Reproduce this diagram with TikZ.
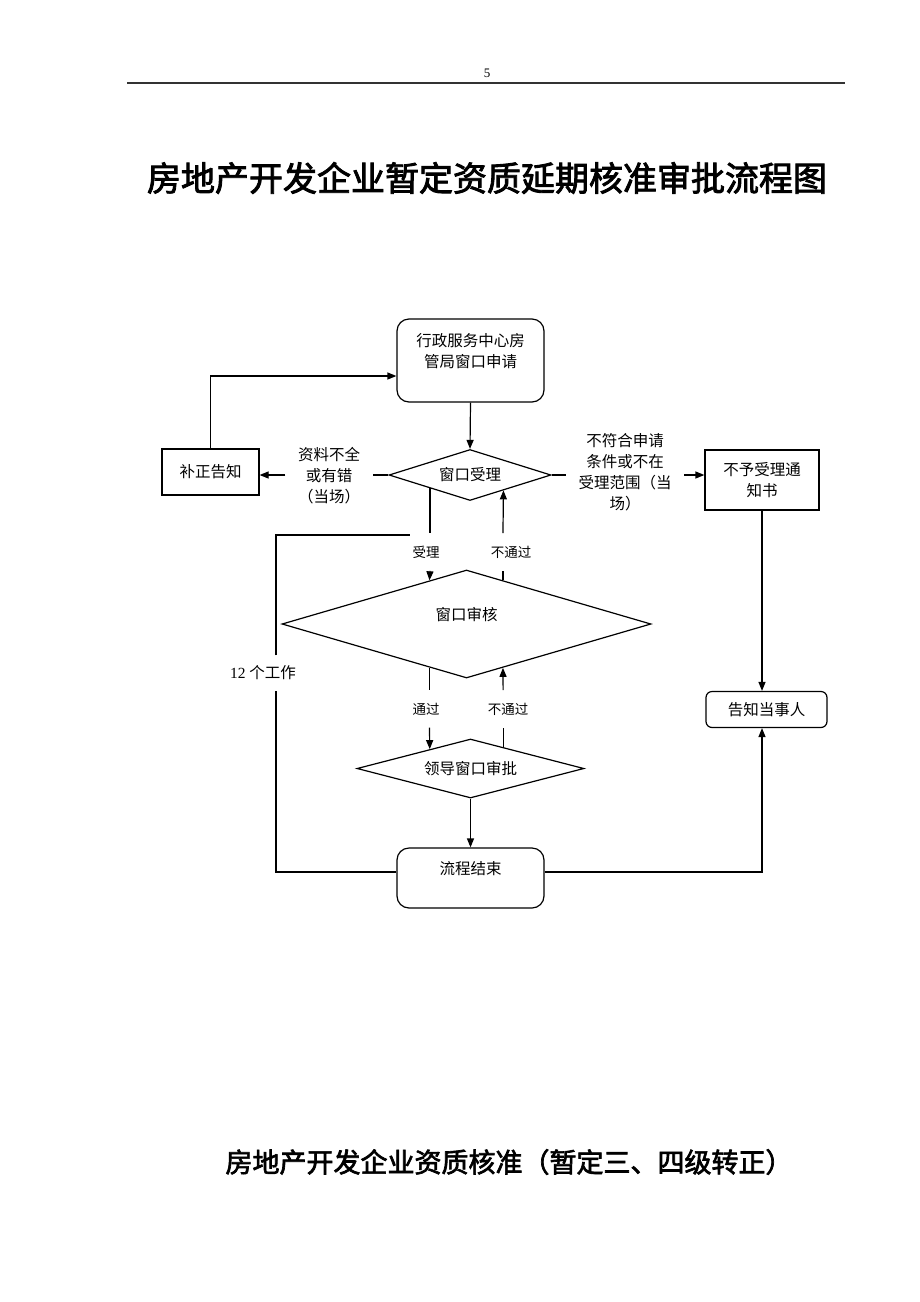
\documentclass[tikz,border=0pt]{standalone}
\usepackage{fontspec}
\setmainfont{Liberation Serif}
\newfontfamily\cjk{Noto Sans CJK SC}
\newfontfamily\cjktitle[BoldFont={Noto Sans CJK SC}, BoldFeatures={FakeBold=2.5}]{Noto Sans CJK SC}
\usetikzlibrary{shapes.geometric,arrows.meta,calc}

\begin{document}
\begin{tikzpicture}[x=1pt, y=-1pt, line width=1.2pt,
    txt/.style={font=\cjk\fontsize{15.5}{21}\selectfont, align=center, inner sep=0pt},
    box/.style={txt, draw, rectangle},
    rbox/.style={box, rounded corners=12pt},
    dia/.style={txt, draw, diamond},
    lbl/.style={txt, fill=white, inner xsep=12pt, inner ysep=2pt},
    vlbl/.style={font=\cjk\fontsize{13.5}{16}\selectfont, fill=white, inner xsep=2pt, inner ysep=12pt},
    arr/.style={-{Triangle[length=9pt,width=7pt]}}]
    \useasboundingbox[fill=white] (0,0) rectangle (920,1302);

    % page head
    \node[font=\fontsize{13}{15}\selectfont] (pageno) at (487,73) {5};
    \draw[line width=1.4pt, black!80] (127,83) -- (845,83);

    % titles
    \node[font=\cjktitle\bfseries\fontsize{34}{40}\selectfont] (title) at (487,178)
      {房地产开发企业暂定资质延期核准审批流程图};
    \node[font=\cjktitle\bfseries\fontsize{27}{32}\selectfont] (nexttitle) at (509,1162)
      {房地产开发企业资质核准（暂定三、四级转正）};

    % boxes and decisions
    \node[rbox, minimum width=147, minimum height=83] (apply) at (470.5,360.5) {行政服务中心房\\管局窗口申请\\\mbox{}};
    \node[box, minimum width=97, minimum height=46] (fix) at (210.5,472) {补正告知};
    \node[dia, aspect=3.2, minimum width=162, minimum height=51] (accept) at (470,475) {窗口受理};
    \node[box, minimum width=114, minimum height=60] (reject) at (762,480) {不予受理通\\知书};
    \node[dia, aspect=3.4, minimum width=369, minimum height=108] (review) at (466.5,624) {窗口审核\\\mbox{}};
    \node[rbox, rounded corners=6pt, minimum width=121, minimum height=36] (notify) at (766.5,709.5) {告知当事人};
    \node[dia, aspect=3.85, minimum width=227, minimum height=59] (approve) at (470.5,768.5) {领导窗口审批};
    \node[rbox, minimum width=147, minimum height=60] (finish) at (470.5,878) {流程结束\\\mbox{}};

    % labels on the lines
    \node[lbl] (lackdoc) at (329,476) {资料不全\\或有错\\（当场）};
    \node[lbl] (outscope) at (625,472) {不符合申请\\条件或不在\\受理范围（当\\场）};
    \node[vlbl] (pass1) at (426,552) {受理};
    \node[vlbl] (fail1) at (511,552) {不通过};
    \node[vlbl] (pass2) at (426,709) {通过};
    \node[vlbl] (fail2) at (508,709) {不通过};
    \node[txt, fill=white, inner xsep=2pt, inner ysep=10pt] (days) at (263,673) {{\rmfamily 12 }个工作};

    % points on the diamond edges
    \coordinate (accept-L) at ($(accept.south)!0.49!(accept.west)$);
    \coordinate (accept-R) at ($(accept.south)!0.41!(accept.east)$);
    \coordinate (review-TL) at ($(review.north)!0.2!(review.west)$);
    \coordinate (review-TR) at ($(review.north)!0.197!(review.east)$);
    \coordinate (review-BL) at ($(review.south)!0.2!(review.west)$);
    \coordinate (review-BR) at ($(review.south)!0.197!(review.east)$);
    \coordinate (approve-TL) at ($(approve.north)!0.357!(approve.west)$);
    \coordinate (approve-TR) at ($(approve.north)!0.286!(approve.east)$);
    \coordinate (loop) at (276,535);

    % connectors
    \draw[arr] (fix.north) |- ($(apply.west)+(0,15.5)$);
    \draw[arr] (apply.south) -- (accept.north);
    \draw (accept.west) -- (accept.west -| lackdoc.east);
    \draw[arr] (accept.west -| lackdoc.west) -- (accept.west -| fix.east);
    \draw (accept.east) -- (accept.east -| outscope.west);
    \draw[arr] (accept.east -| outscope.east) -- (accept.east -| reject.west);
    \draw[arr] (reject.south) -- (reject.south |- notify.north);

    \draw (accept-L) -- (accept-L |- pass1.north);
    \draw[arr] (accept-L |- pass1.south) -- (review-TL);
    \draw (review-TR) -- (review-TR |- fail1.south);
    \draw[arr] (review-TR |- fail1.north) -- (accept-R);
    \draw (review-BL) -- (review-BL |- pass2.north);
    \draw[arr] (review-BL |- pass2.south) -- (approve-TL);
    \draw (approve-TR) -- (approve-TR |- fail2.south);
    \draw[arr] (approve-TR |- fail2.north) -- (review-BR);
    \draw[arr] (approve.south) -- (finish.north);

    \draw ($(finish.west)+(0,-6)$) -| (loop |- days.south);
    \draw (loop |- days.north) -- (loop) -- (loop -| pass1.west);
    \draw[arr] ($(finish.east)+(0,-6)$) -| (reject.south |- notify.south);

\end{tikzpicture}
\end{document}
